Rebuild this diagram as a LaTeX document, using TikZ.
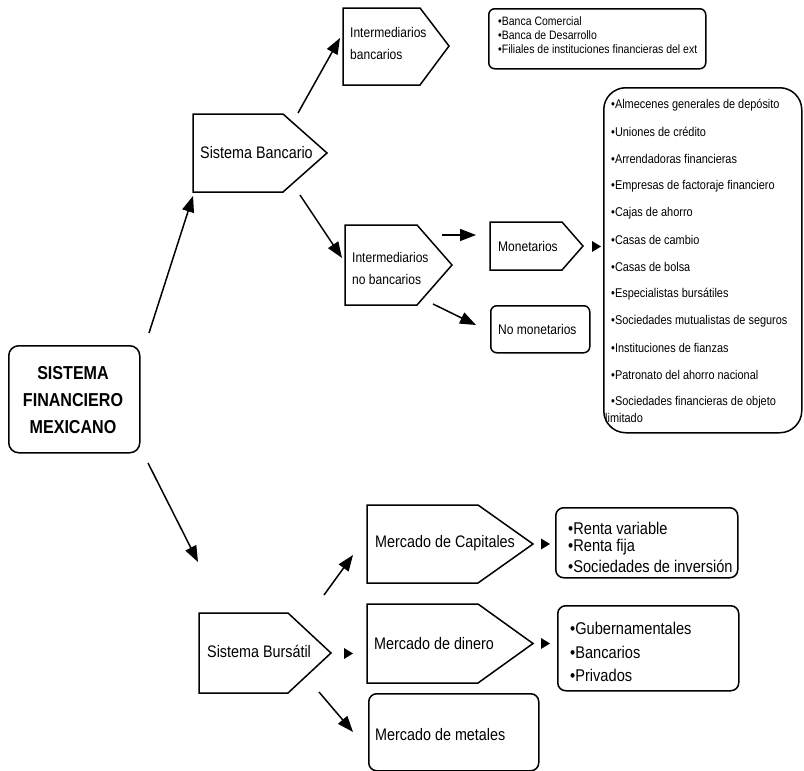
\documentclass[tikz,border=0pt]{standalone}
\usepackage{fontspec}
\setmainfont{Liberation Sans}[FakeStretch=0.86]
\usetikzlibrary{arrows.meta}
\tikzset{
  shp/.style={draw, line width=1.5pt, line join=miter},
  rbox/.style={draw, line width=1.5pt, anchor=north west, inner sep=0pt},
  lbl/.style={anchor=west, inner sep=0pt, align=left},
  big/.style={lbl, font=\fontsize{16.7}{20}\selectfont},
  mid/.style={lbl, font=\fontsize{14}{22}\selectfont},
  lst/.style={lbl, font=\fontsize{12.7}{14}\selectfont},
  sml/.style={lbl, font=\fontsize{12.2}{14}\selectfont},
  bul/.style={lbl, font=\fontsize{17}{20}\selectfont},
  arr/.style={line width=1.5pt, -{Triangle[length=16pt,width=12pt]}},
  tri/.style={fill=black},
}
\begin{document}
\begin{tikzpicture}[x=1pt,y=-1pt]
\useasboundingbox (0,0) rectangle (804,771);

% ---- main box
\node[rbox, rounded corners=10pt, minimum width=131pt, minimum height=107pt] (main) at (8,345) {};
\node[anchor=center, inner sep=0pt, align=center, font=\bfseries\fontsize{18.7}{27}\selectfont] (maintxt) at (73,400) {SISTEMA\\FINANCIERO\\MEXICANO};

% ---- pentagons
\draw[shp] (193,114) -- (283,114) -- (327,153) -- (283,192) -- (193,192) -- cycle;
\node[big] (bancario) at (200,153) {Sistema Bancario};

\draw[shp] (343,8) -- (420,8) -- (449,46) -- (420,85) -- (343,85) -- cycle;
\node[mid] (ibanc) at (350,43) {Intermediarios\\bancarios};

\draw[shp] (345,225) -- (417,225) -- (452,265) -- (417,305) -- (345,305) -- cycle;
\node[mid] (inobanc) at (352,268) {Intermediarios\\no bancarios};

\draw[shp] (490,222) -- (562,222) -- (583,246) -- (562,270) -- (490,270) -- cycle;
\node[mid] (monet) at (498,246) {Monetarios};

\draw[shp] (199,613) -- (288,613) -- (331,653) -- (288,693) -- (199,693) -- cycle;
\node[big] (bursatil) at (207,651) {Sistema Bursátil};

\draw[shp] (367,505) -- (478,505) -- (533,544) -- (478,583) -- (367,583) -- cycle;
\node[big] (capit) at (375,543) {Mercado de Capitales};

\draw[shp] (367,604) -- (478,604) -- (533,643.5) -- (478,683) -- (367,683) -- cycle;
\node[big] (dinero) at (374,644) {Mercado de dinero};

% ---- rounded boxes
\node[rbox, rounded corners=6pt, minimum width=99pt, minimum height=47pt] (nomonbox) at (490,305) {};
\node[mid] (nomon) at (498,329) {No monetarios};

\node[rbox, rounded corners=8pt, minimum width=170pt, minimum height=77pt] (metbox) at (368,693) {};
\node[big] (metales) at (375,735) {Mercado de metales};

\node[rbox, rounded corners=6pt, minimum width=217pt, minimum height=60pt] (bancbox) at (488,8) {};
\node[sml] (b1) at (498,21) {•Banca Comercial};
\node[sml] (b2) at (498,35) {•Banca de Desarrollo};
\node[sml] (b3) at (498,49) {•Filiales de instituciones financieras del ext};

\node[rbox, rounded corners=22pt, minimum width=198pt, minimum height=345pt] (listbox) at (603,87) {};
\node[lst] (l1) at (611,105) {•Almecenes generales de depósito};
\node[lst] (l2) at (611,132) {•Uniones de crédito};
\node[lst] (l3) at (611,159) {•Arrendadoras financieras};
\node[lst] (l4) at (611,186) {•Empresas de factoraje financiero};
\node[lst] (l5) at (611,213) {•Cajas de ahorro};
\node[lst] (l6) at (611,240) {•Casas de cambio};
\node[lst] (l7) at (611,267) {•Casas de bolsa};
\node[lst] (l8) at (611,294) {•Especialistas bursátiles};
\node[lst] (l9) at (611,321) {•Sociedades mutualistas de seguros};
\node[lst] (l10) at (611,348) {•Instituciones de fianzas};
\node[lst] (l11) at (611,375) {•Patronato del ahorro nacional};
\node[lst] (l12) at (611,402) {•Sociedades financieras de objeto};
\node[lst] (l13) at (605,418) {limitado};

\node[rbox, rounded corners=8pt, minimum width=182pt, minimum height=70pt] (rentabox) at (555,507) {};
\node[bul] (r1) at (568,528) {•Renta variable};
\node[bul] (r2) at (568,547) {•Renta fija};
\node[bul] (r3) at (568,566) {•Sociedades de inversión};

\node[rbox, rounded corners=8pt, minimum width=181pt, minimum height=85pt] (guberbox) at (557,605) {};
\node[bul] (g1) at (570,628) {•Gubernamentales};
\node[bul] (g2) at (570,652) {•Bancarios};
\node[bul] (g3) at (570,675) {•Privados};

% ---- small pointer triangles
\fill[tri] (592,241) -- (601,246.5) -- (592,252) -- cycle;
\fill[tri] (541,538.5) -- (550,544) -- (541,549.5) -- cycle;
\fill[tri] (541,638) -- (550,643.5) -- (541,649) -- cycle;
\fill[tri] (344,648) -- (353,653.5) -- (344,659) -- cycle;

% ---- arrow end points
\coordinate (a1s) at (149,333); \coordinate (a1e) at (193,196);
\coordinate (a2s) at (148,463); \coordinate (a2e) at (198,562);
\coordinate (a3s) at (298,113); \coordinate (a3e) at (340,38);
\coordinate (a4s) at (300,195); \coordinate (a4e) at (342,258);
\coordinate (a5s) at (442,235); \coordinate (a5e) at (476,235);
\coordinate (a6s) at (433,304); \coordinate (a6e) at (476,325);
\coordinate (a7s) at (324,595); \coordinate (a7e) at (353,555);
\coordinate (a8s) at (319,692); \coordinate (a8e) at (353,732);

\draw[arr] (a1s) -- (a1e);
\draw[arr] (a2s) -- (a2e);
\draw[arr] (a3s) -- (a3e);
\draw[arr] (a4s) -- (a4e);
\draw[arr] (a5s) -- (a5e);
\draw[arr] (a6s) -- (a6e);
\draw[arr] (a7s) -- (a7e);
\draw[arr] (a8s) -- (a8e);
\end{tikzpicture}
\end{document}
